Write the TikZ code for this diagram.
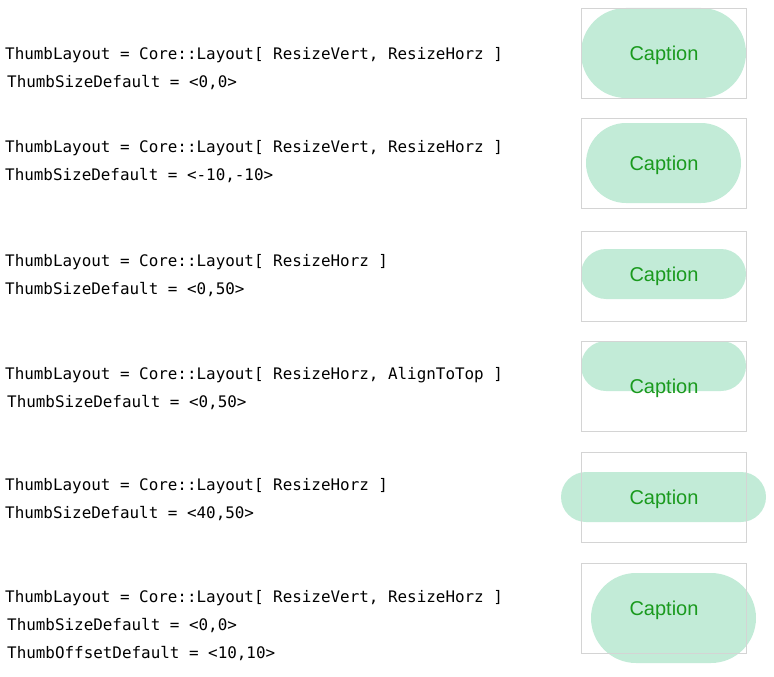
\documentclass[tikz,border=0pt]{standalone}
\usepackage{fontspec}
\setmainfont{Liberation Sans}
\setmonofont{DejaVu Sans Mono}
\definecolor{framegray}{HTML}{D4D4D4}
\definecolor{pillgreen}{HTML}{C2EBD7}
\definecolor{captiongreen}{HTML}{1A9A1E}

\begin{document}
\begin{tikzpicture}[x=1pt,y=-1pt,
    codeline/.style={anchor=base west,inner sep=0pt,font=\fontsize{15.9}{16}\selectfont\ttfamily},
    captiontext/.style={anchor=base,inner sep=0pt,text=captiongreen,font=\fontsize{20}{20}\selectfont},
    frame/.style={draw=framegray,line width=0.9pt}]
            \useasboundingbox (0,0) rectangle (774,677);
            \fill[pillgreen,rounded corners=45pt] (581,8) rectangle (746,98);
            \fill[pillgreen,rounded corners=40pt] (586,123) rectangle (741,203);
            \fill[pillgreen,rounded corners=25pt] (581,249) rectangle (746,299);
            \fill[pillgreen,rounded corners=25pt] (581,341) rectangle (746,391);
            \fill[pillgreen,rounded corners=25pt] (561,472) rectangle (766,522);
            \fill[pillgreen,rounded corners=45pt] (591,573) rectangle (756,663);
            \foreach \y in {8,118,231,341,452,563}{
                \draw[frame] (581,\y) rectangle (746,\y+90);
            }
            \node[captiontext] (cap1) at (664,60) {Caption};
            \node[captiontext] (cap2) at (664,170) {Caption};
            \node[captiontext] (cap3) at (664,281) {Caption};
            \node[captiontext] (cap4) at (664,393) {Caption};
            \node[captiontext] (cap5) at (664,504) {Caption};
            \node[captiontext] (cap6) at (664,615) {Caption};
            \node[codeline] (layout1) at (5,59.5) {ThumbLayout = Core::Layout[ ResizeVert, ResizeHorz ]};
            \node[codeline] (size1) at (7,87.5) {ThumbSizeDefault = <0,0>};
            \node[codeline] (layout2) at (5,152.5) {ThumbLayout = Core::Layout[ ResizeVert, ResizeHorz ]};
            \node[codeline] (size2) at (5,180.5) {ThumbSizeDefault = <-10,-10>};
            \node[codeline] (layout3) at (5,266.5) {ThumbLayout = Core::Layout[ ResizeHorz ]};
            \node[codeline] (size3) at (5,294.5) {ThumbSizeDefault = <0,50>};
            \node[codeline] (layout4) at (5,379.5) {ThumbLayout = Core::Layout[ ResizeHorz, AlignToTop ]};
            \node[codeline] (size4) at (7,407.5) {ThumbSizeDefault = <0,50>};
            \node[codeline] (layout5) at (5,490.5) {ThumbLayout = Core::Layout[ ResizeHorz ]};
            \node[codeline] (size5) at (5,518.5) {ThumbSizeDefault = <40,50>};
            \node[codeline] (layout6) at (5,602.5) {ThumbLayout = Core::Layout[ ResizeVert, ResizeHorz ]};
            \node[codeline] (size6) at (7,630.5) {ThumbSizeDefault = <0,0>};
            \node[codeline] (offset6) at (7,658.5) {ThumbOffsetDefault = <10,10>};
\end{tikzpicture}
\end{document}
